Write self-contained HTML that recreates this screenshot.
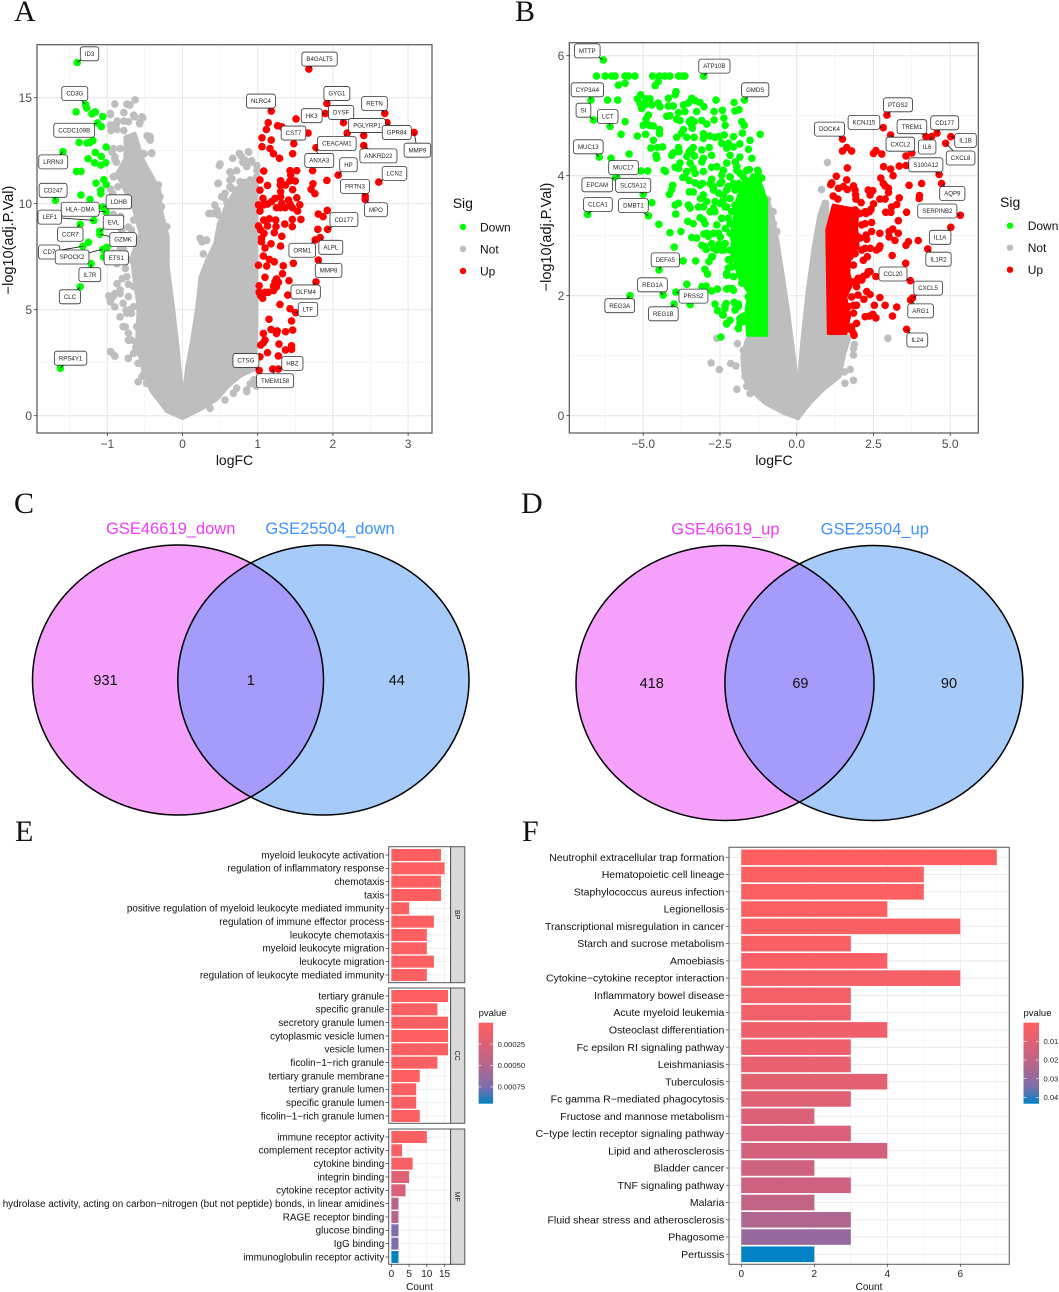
<!DOCTYPE html>
<html lang="en">
<head>
<meta charset="utf-8">
<title>Differential expression figure</title>
<style>
html,body{margin:0;padding:0;background:#fff;}
svg{display:block;font-family:"Liberation Sans",Arial,sans-serif;}
.panel-letter{font-family:"Liberation Serif",serif;font-size:30px;fill:#111;}
.venn-title{font-size:16.5px;text-anchor:middle;}
.venn-count{font-size:14.5px;text-anchor:middle;fill:#111;}
</style>
</head>
<body>
<svg id="figure" xmlns="http://www.w3.org/2000/svg" width="1059" height="1292" viewBox="0 0 1059 1292">
  <rect x="0" y="0" width="1059" height="1292" fill="#fff"/>
  <text class="panel-letter" x="14" y="21">A</text>
  <text class="panel-letter" x="515" y="21">B</text>
  <text class="panel-letter" x="14" y="513">C</text>
  <text class="panel-letter" x="521" y="513">D</text>
  <text class="panel-letter" x="15" y="841">E</text>
  <text class="panel-letter" x="522" y="841">F</text>

  <g>
    <text class="venn-title" x="170.7" y="534" fill="#f03cf5">GSE46619_down</text>
    <text class="venn-title" x="330" y="534" fill="#3f93f5">GSE25504_down</text>
    <defs>
      <clipPath id="clipC"><ellipse cx="178" cy="680" rx="145.5" ry="135"/></clipPath>
      <clipPath id="clipD"><ellipse cx="725" cy="683" rx="149" ry="137.5"/></clipPath>
    </defs>
    <ellipse cx="178" cy="680" rx="145.5" ry="135" fill="#f5a0fb"/>
    <ellipse cx="323.4" cy="680" rx="145.6" ry="135" fill="#a7cbf8"/>
    <ellipse cx="323.4" cy="680" rx="145.6" ry="135" fill="#a59bfa" clip-path="url(#clipC)"/>
    <ellipse cx="178" cy="680" rx="145.5" ry="135" fill="none" stroke="#000" stroke-width="1.5"/>
    <ellipse cx="323.4" cy="680" rx="145.6" ry="135" fill="none" stroke="#000" stroke-width="1.5"/>
    <text class="venn-count" x="105.5" y="685">931</text>
    <text class="venn-count" x="250.8" y="685">1</text>
    <text class="venn-count" x="396.8" y="685">44</text>
  </g>

  <g>
    <text class="venn-title" x="725.4" y="534.5" fill="#f03cf5">GSE46619_up</text>
    <text class="venn-title" x="874.8" y="534.5" fill="#3f93f5">GSE25504_up</text>
    <ellipse cx="725" cy="683" rx="149" ry="137.5" fill="#f5a0fb"/>
    <ellipse cx="873.9" cy="683" rx="149" ry="137.5" fill="#a7cbf8"/>
    <ellipse cx="873.9" cy="683" rx="149" ry="137.5" fill="#a59bfa" clip-path="url(#clipD)"/>
    <ellipse cx="725" cy="683" rx="149" ry="137.5" fill="none" stroke="#000" stroke-width="1.5"/>
    <ellipse cx="873.9" cy="683" rx="149" ry="137.5" fill="none" stroke="#000" stroke-width="1.5"/>
    <text class="venn-count" x="651.7" y="688">418</text>
    <text class="venn-count" x="800.4" y="688">69</text>
    <text class="venn-count" x="949" y="688">90</text>
  </g>
</svg>
<script>
/* ===== Panel A data (logFC, -log10 adj.P) ===== */
const xTicksA = [-1, 0, 1, 2, 3];
const yTicksA = [0, 5, 10, 15];
const notCoreLeftA = [[-.01,-.12],[-.21,.19],[-.43,1.21],[-.54,2.3],[-.61,3.57],[-.59,5.14],[-.65,6.56],[-.68,7.5],[-.565,8.6],[-.65,9.7],[-.875,11.43],[-.765,12.14],[-.765,13.16],[-.63,13.32],[-.52,12.06],[-.3,10.65],[-.28,9.7],[-.19,8.45],[-.19,7.03],[-.12,5.14],[-.055,3.1],[-.01,1.37]];
const notCoreRightA = [[.011,-.12],[.233,.27],[.455,.74],[.61,1.37],[.765,1.84],[.97,2.2],[.99,4.35],[.99,11.1],[.81,11.1],[.676,10.49],[.588,10],[.477,9.07],[.43,8.13],[.32,7.34],[.233,6.56],[.19,5.14],[.122,3.57],[.056,2.3],[.011,1.06]];
const notA = [[-.63,14.9],[-.9,14.7],[-.74,14.7],[-.7,14.65],[-.78,14.3],[-.64,14.1],[-.53,14.05],[-.96,14.2],[-.87,13.9],[-.78,13.9],[-.57,13.77],[-.95,13.7],[-.95,13.45],[-.87,13.5],[-.78,13.45],[-.47,13.2],[-.43,13],[-.92,12.6],[-.83,12.6],[-.9,12.1],[-.51,12.35],[-.41,12.4],[-.88,11.95],[-.9,11.3],[-.83,11.4],[-.86,10.8],[-.96,10.7],[-.93,10.5],[-.85,10.25],[-.76,10],[-.92,9.5],[-.82,9.4],[-.92,9.05],[-.81,8.75],[-.88,8.27],[-.94,7.65],[-.78,7.8],[-.87,7.17],[-.76,6.94],[-.8,6.47],[-.87,6.23],[-.98,5.65],[-.9,5.76],[-.96,5.37],[-.9,5.13],[-.83,4.66],[-.76,4.19],[-.72,3.56],[-.65,2.94],[-.72,2.7],[-.9,2.81],[-.95,3.01],[-.61,3.41],[-.59,1.6],[-.51,2],[-.75,4.98],[-.83,5.76],[-.72,8.9],[-.74,7.4],[-.72,6.2],[-.7,5],[-.62,3.2],[-.92,5.62],[-.83,5.93],[-.96,5.46],[-.79,5.3],[-.68,4.83],[-.79,4.2],[-.72,3.89],[-.68,3.57],[-.65,2.94],[-.72,2.71],[-.96,3.02],[-.9,2.82],[-.59,2.47],[-.54,1.84],[-.48,1.53],[-.65,6.09],[-.74,6.56],[-.68,7.34],[-.92,7.66],[-.83,7.82],[-.83,11.27],[-.92,11.27],[-.76,11.51],[-.65,11.59],[-.52,11.75],[-.41,12.37],[-.43,13.16],[-.52,12.37],[-.72,5.62],[-.65,5.14],[-.74,4.83],[-.61,4.2],[-.565,2.94],[-.32,10.88],[-.3,10.33],[-.28,9.86],[-.21,8.92],[-.68,8.76],[-.65,9.23],[-.9,12.22],[-.94,12.45],[-.96,14.26],[-.65,14.18],[-.54,14.1],[-.72,13.87],[-.96,13.71],[-.875,13.79],[-.565,13.87],[.49,11.8],[.47,10.95],[.63,11.5],[.78,12.25],[.88,12.43],[.66,11.18],[.92,11.96],[.8,11.96],[.99,11.8],[.83,11],[.94,11.1],[.71,10.63],[.55,10.3],[.59,10.08],[.35,9.53],[.41,9.53],[.26,8.2],[.32,8.27],[.63,10.8],[.77,10.47],[.88,10.63],[.97,10.8],[.99,11.57],[.46,9.69],[.63,9.37],[.855,1.13],[.95,1.7],[.72,1.3],[.98,1.4],[.9,1.5],[.5,11.87],[.667,12.14],[.876,12.45],[.756,12.37],[.83,12.06],[.92,12.03],[.99,11.27],[.72,11.56],[.64,11.46],[.854,11.75],[.477,10.96],[.63,11.12],[.765,11.04],[.9,11.12],[.654,10.72],[.81,10.65],[.43,9.94],[.366,9.55],[.477,9.47],[.32,8.29],[.255,8.29],[.277,7.63],[.233,8.37],[.52,10.33],[.565,10.49],[.676,1.06],[.565,.74],[.854,1.21],[.654,2],[.366,.35]];
const downA = [[-1.275,14.52],[-1.415,14.33],[-1.16,14.33],[-1.205,14.24],[-1.06,14.11],[-1.08,13.64],[-1.375,12.89],[-1.27,12.86],[-1.23,12.89],[-1.19,12.98],[-1.015,12.67],[-1.16,12.42],[-1.08,12.23],[-1.255,12.12],[-1.17,11.93],[-1.02,11.93],[-1.086,11.82],[-1.41,11.52],[-1.35,11.52],[-1.046,11.13],[-1.15,10.97],[-1.015,10.91],[-1.086,10.63],[-1.086,10.47],[-1.35,10.41],[-1.23,10.2],[-1.25,8.18],[-1.006,7.94]];
const upA = [[1.51,14],[1.14,13.82],[1.115,13.5],[1.265,13.68],[1.67,13.33],[1.057,13.11],[1.18,13],[1.48,12.83],[1.057,12.69],[1.164,12.6],[1.21,12.36],[1.465,12.36],[1.29,12.14],[1.73,11.56],[1.08,11.54],[1.43,11.56],[1.52,11.56],[1.44,11.34],[1.03,11.12],[1.92,11.1],[1.305,11.08],[1.43,11.08],[1.5,11.07],[1.13,10.86],[1.3,10.88],[1.37,10.88],[1.735,10.94],[1.03,10.64],[1.465,10.66],[1.71,10.68],[1.76,10.47],[1.305,10.57],[1.305,10.33],[1.52,10.28],[1.07,10.25],[1.23,10.25],[1.185,10.1],[1.41,10.17],[1.32,10.02],[1.56,9.95],[1.01,9.94],[1.075,9.94],[1.13,9.98],[1.43,9.98],[1.25,9.81],[1.305,9.81],[1.365,9.81],[1.46,9.81],[1.03,9.65],[1.53,9.65],[1.925,9.68],[1.806,9.51],[1.87,9.39],[1.08,9.23],[1.155,9.29],[1.24,9.23],[1.46,9.26],[1.575,9.26],[1.36,9.04],[1.01,8.95],[1.13,8.95],[1.244,8.92],[1.46,8.92],[1.8,8.79],[1.04,8.76],[1.084,8.6],[1.22,8.63],[1.32,8.46],[1.05,8.37],[1.05,8.2],[1.177,8.11],[1.305,8],[1.097,7.91],[1.075,7.53],[1.155,7.37],[1.22,7.26],[1.474,7.19],[1.01,7.1],[1.12,7.06],[1.34,7.07],[1.33,6.7],[1.097,6.53],[1.25,6.45],[1.416,6.37],[1.23,6.32],[1.275,6.29],[1.21,6.12],[1.02,6.13],[1.25,6.08],[1.097,5.82],[1.14,5.82],[1.21,5.9],[1.02,5.82],[1.4,5.69],[1.04,5.66],[1.066,5.54],[1.296,5.25],[1.43,5.05],[1.45,4.47],[1.15,4.55],[1.177,4.07],[1.465,4.04],[1.26,4],[1.25,3.88],[1.37,3.96],[1.075,3.88],[1.097,3.57],[1.075,3.44],[1.04,3.33],[1.283,3.38],[1.45,3.3],[1.45,3.13],[1.37,3.1],[1.13,2.97],[1.03,2.78],[1.275,2.82]];
const genesA = [['ID3',-1.4,16.66],['CD3G',-1.29,14.68],['CCDC109B',-1.13,13.81],['LRRN3',-1.59,12.46],['CD247',-1.69,10.16],['LDHB',-1.06,9.84],['HLA−DMA',-1.015,9.61],['LEF1',-1.18,9.21],['EVL',-1.1,8.7],['CCR7',-1.36,9.03],['GZMK',-1.1,8.56],['CD7',-1.325,7.99],['SPOCK2',-1.06,7.85],['ETS1',-1.05,7.49],['IL7R',-1.215,7.17],['CLC',-1.36,6.08],['RPS4Y1',-1.625,2.24],['B4GALT5',1.68,16.35],['GYG1',1.92,14.73],['NLRC4',1.18,14.37],['HK3',1.9,14.26],['DYSF',2.14,13.82],['RETN',2.69,14.26],['PGLYRP1',2.41,13.22],['GPR84',2.72,13.82],['MMP9',3.08,13.36],['CST7',1.32,13.63],['CEACAM1',2.19,13.33],['ANKRD22',2.41,12.74],['ANXA3',1.775,12.64],['HP',2.07,11.35],['LCN2',2.61,11.02],['PRTN3',2.43,10.36],['MPO',2.43,10.2],['CD177',1.93,8.79],['ALPL',1.83,8.4],['ORM1',1.765,8.29],['MMP8',1.806,7.34],['OLFM4',1.775,6.31],['LTF',1.505,4.86],['CTSG',1.02,2.13],['HBZ',1.275,2.2],['TMEM158',1.2,2.2]];

/* ===== Panel B data ===== */
const xTicksB = [-5, -2.5, 0, 2.5, 5];
const xTickLabelsB = ['−5.0', '−2.5', '0.0', '2.5', '5.0'];
const yTicksB = [0, 2, 4, 6];
const notCoreLeftB = [[.05,-.05],[-.43,.04],[-1.03,.2],[-1.52,.43],[-1.74,.65],[-1.79,.98],[-1.63,1.29],[-1.03,1.43],[-1.03,3.59],[-.92,3.59],[-.76,3.32],[-.6,2.87],[-.43,2.32],[-.27,1.76],[-.09,1.04],[.05,.43]];
const notCoreRightB = [[.05,-.05],[.43,.2],[.87,.43],[1.41,.65],[1.57,1.04],[1.74,1.32],[1,1.4],[1,3.54],[.87,3.57],[.71,3.32],[.54,2.82],[.33,2.04],[.16,1.2],[.02,.43]];
const notB = [[1,4.22],[.81,3.77],[.94,3.54],[2.97,1.29],[1.85,.59],[1.74,.77],[1.55,.73],[1.88,1.19],[1.85,1.12],[1.85,1.01],[1.57,.54],[-2.6,1.29],[-1.93,1.2],[-2.79,.88],[-2.52,.77],[-2.15,.87],[-1.98,.83],[-1.95,.44],[-1.52,.37],[-1.68,.65],[-1.63,.49],[-1.74,1.09],[-1.63,1.01],[-.95,3.6],[-.77,3.4],[-.65,3.07],[-.76,3.2]];
const downCoreB = [[-.98,1.34],[-1.6,1.34],[-1.65,1.76],[-1.55,2.04],[-1.9,2.32],[-2.1,2.76],[-2.1,3.1],[-1.95,3.59],[-1.7,3.93],[-1.25,3.98],[-.98,3.59]];
const upCoreB = [[1.03,1.37],[1.6,1.37],[1.72,1.65],[1.6,1.98],[1.8,2.2],[1.7,2.37],[1.72,2.6],[2,2.82],[1.95,3.15],[2,3.43],[1.19,3.51],[.98,3.1]];
const downB = [[-6.52,5.66],[-6.24,5.66],[-6.03,5.66],[-5.92,5.66],[-5.59,5.66],[-5.48,5.66],[-5.27,5.66],[-4.69,5.66],[-4.47,5.66],[-4.29,5.66],[-4.13,5.66],[-3.85,5.66],[-3.71,5.66],[-3.64,5.66],[-4.51,5.57],[-4.61,5.5],[-5.59,5.54],[-5.81,5.51],[-3.93,5.4],[-3.96,5.35],[-5.08,5.35],[-5.19,5.28],[-4.91,5.28],[-4.78,5.28],[-4.18,5.29],[-3.42,5.29],[-3.31,5.25],[-2.63,5.26],[-2.04,5.22],[-6.16,5.26],[-5.83,5.26],[-5.1,5.2],[-4.94,5.18],[-4.72,5.18],[-4.51,5.21],[-4.18,5.16],[-4.02,5.16],[-3.69,5.18],[-3.53,5.21],[-3.15,5.22],[-3.02,5.15],[-5.05,5.12],[-4.45,5.15],[-3.85,5.05],[-3.64,5.07],[-3.26,5.07],[-2.69,5.07],[-2.42,5.09],[-2.01,5.08],[-1.88,5.1],[-4.83,5.01],[-4.91,4.94],[-4.23,4.99],[-4.13,5],[-3.91,4.94],[-3.8,4.92],[-3.09,4.92],[-2.69,4.93],[-2.37,4.96],[-5.59,4.9],[-5,4.84],[-4.8,4.84],[-4.67,4.83],[-3.42,4.93],[-3.5,4.9],[-3.34,4.9],[-3.42,4.84],[-3.4,4.79],[-2.93,4.86],[-2.33,4.84],[-1.79,4.9],[-1.71,4.84],[-4.47,4.77],[-5.72,4.69],[-5.19,4.66],[-4.92,4.69],[-4.47,4.7],[-3.69,4.77],[-3.75,4.71],[-3.04,4.7],[-2.82,4.66],[-2.66,4.64],[-2.53,4.65],[-2.36,4.68],[-2.06,4.65],[-1.77,4.71],[-1.19,4.69],[-1.52,4.59],[-3.91,4.64],[-3.58,4.64],[-3.34,4.64],[-3.04,4.62],[-4.67,4.59],[-2.44,4.54],[-2.22,4.54],[-1.85,4.53],[-4.75,4.46],[-4.54,4.47],[-4.37,4.48],[-3.85,4.47],[-3.37,4.47],[-2.85,4.47],[-3.09,4.43],[-3.44,4.43],[-2.28,4.46],[-2.06,4.48],[-1.57,4.44],[-5.46,4.36],[-4.58,4.34],[-4.56,4.29],[-4.02,4.38],[-4.07,4.34],[-3.83,4.4],[-3.5,4.4],[-3.58,4.32],[-3.33,4.33],[-6.05,4.29],[-3.04,4.29],[-2.77,4.34],[-2.17,4.34],[-1.85,4.31],[-1.46,4.29],[-3.8,4.21],[-3.96,4.14],[-3.47,4.21],[-3.09,4.23],[-2.77,4.14],[-2.6,4.15],[-2.28,4.21],[-2,4.23],[-4.32,4.09],[-4.27,4.07],[-5.07,4.08],[-4.85,4.08],[-3.85,4.12],[-3.37,4.12],[-1.95,4.09],[-1.54,4.1],[-1.27,4.09],[-3.04,4.07],[-3.58,4.07],[-3.31,4.04],[-3.64,3.98],[-3.71,3.97],[-2.44,4.01],[-2.17,3.98],[-1.74,3.98],[-1.32,3.96],[-1.14,3.96],[-3.5,3.92],[-3.31,3.88],[-3.15,3.84],[-2.77,3.94],[-2.44,3.9],[-2.06,3.87],[-1.52,3.87],[-2.77,3.84],[-4.04,3.84],[-4.07,3.77],[-3.07,3.87],[-3.5,3.73],[-3.37,3.73],[-2.71,3.76],[-2.55,3.71],[-4.15,3.69],[-2.28,3.76],[-1.85,3.76],[-3.04,3.68],[-3.13,3.62],[-4.72,3.55],[-3.85,3.54],[-3.96,3.51],[-2.93,3.57],[-2.66,3.57],[-2.39,3.59],[-3.53,3.51],[-3.2,3.48],[-3.04,3.48],[-3.47,3.46],[-2.71,3.46],[-2.28,3.48],[-3.94,3.36],[-3.15,3.3],[-3.04,3.26],[-2.44,3.29],[-3.55,3.24],[-3.37,3.2],[-2.98,3.2],[-4.49,3.19],[-2.6,3.18],[-2.17,3.2],[-3.77,3.07],[-4.13,3.05],[-3.02,3.03],[-2.71,3.04],[-3.42,2.97],[-3.26,2.96],[-2.88,2.99],[-2.49,2.98],[-2.06,2.96],[-3.09,2.84],[-2.95,2.77],[-2.53,2.86],[-2.71,2.79],[-3.99,2.81],[-2.37,2.76],[-2.74,2.65],[-3.7,2.58],[-3.29,2.58],[-2.86,2.57],[-2.17,2.59],[-2.99,2.44],[-2.9,2.36],[-2.23,2.46],[-2.28,2.34],[-2.06,2.32],[-3.58,2.19],[-2.95,2.16],[-3.09,2.15],[-2.77,2.08],[-2.58,2.11],[-2.28,2.11],[-2.1,2.12],[-3.47,1.85],[-2.66,1.86],[-2.3,1.87],[-2.04,1.89],[-1.9,1.86],[-2.58,1.75],[-2.34,1.79],[-2.41,1.68],[-2.01,1.76],[-2.17,1.59],[-2.28,1.53],[-1.85,1.54],[-1.9,1.45],[-2.47,1.31],[-1.74,1.66],[-2.28,2.37],[-2.12,2.48],[-2.23,2.6],[-2.06,2.65],[-2.17,2.76],[-2.33,2.87],[-2.01,2.93],[-2.17,3.04],[-2.33,3.12],[-2.01,3.21],[-2.23,3.29],[-2.44,3.29],[-2.12,3.4],[-2.33,3.48],[-2.01,3.51],[-2.17,3.62],[-2.39,3.68],[-2.01,3.76],[-2.23,3.82],[-1.9,3.87],[-2.5,3.87],[-2.17,3.98],[-1.85,4.04],[-1.63,4.09],[-1.41,3.98],[-1.25,4.07],[-1.95,4.15],[-1.79,2.21],[-2.06,2.32],[-2.23,2.12],[-2.06,2.09],[-1.58,1.98],[-2.33,1.84],[-2.01,1.87],[-1.9,1.82],[-2.39,1.68],[-1.85,1.62],[-1.74,1.57],[-1.9,1.46],[-2.28,1.54],[-2.77,2.65],[-2.61,2.76],[-2.44,2.76],[-2.77,2.87],[-2.99,2.82],[-2.5,3.54],[-2.66,3.4],[-2.82,3.4],[-2.71,3.04],[-2.93,3.04],[-2.55,3.04],[-2.39,4.09],[-2.82,3.87],[-2.71,3.82]];
const upB = [[1.49,4.41],[1.63,4.47],[1.79,4.41],[2.5,4.37],[2.58,4.42],[2.77,4.36],[3.56,4.33],[3.75,4.38],[2.83,4.15],[3.06,4.11],[3.34,4.16],[3.56,4.17],[1.65,4.13],[1.29,3.99],[1.63,3.93],[1.14,3.88],[1.11,3.85],[2.74,3.96],[3.14,4],[2.82,3.87],[2.88,3.83],[3.66,3.84],[4.07,3.87],[1.36,3.79],[1.52,3.82],[1.65,3.77],[1.85,3.83],[1.9,3.76],[2.33,3.76],[2.48,3.75],[2.99,3.79],[2.99,3.72],[2.39,3.68],[1.19,3.66],[1.92,3.68],[1.93,3.61],[2.71,3.61],[2.88,3.61],[3.34,3.63],[4,3.67],[3.99,3.62],[1.34,3.61],[2.1,3.55],[3.26,3.52],[3.09,3.48],[2.5,3.53],[2.42,3.44],[2.9,3.39],[3.07,3.39],[3.58,3.39],[2.26,3.37],[2.37,3.4],[3.31,3.25],[2.44,3.22],[2.23,3.2],[2.44,3.07],[2.71,3.04],[3.13,3.11],[3.01,3.07],[3.31,3.04],[3.01,2.98],[3.2,2.92],[2.26,3.01],[2.28,2.94],[3.64,2.9],[3.56,2.84],[3.96,2.92],[2.71,2.83],[2.6,2.76],[2.69,2.79],[2.39,2.79],[2.23,2.79],[3.11,2.67],[2.3,2.65],[2.17,2.59],[3.55,2.54],[2.39,2.4],[2.28,2.35],[2.58,2.32],[2.12,2.26],[1.95,2.23],[2.28,2.07],[2.39,2.02],[2,2.01],[2.19,1.94],[2.71,1.97],[2.53,1.84],[2.88,1.84],[3.26,1.81],[1.95,1.84],[1.85,1.84],[2.48,1.69],[2.23,1.65],[2.37,1.66],[2.58,1.63],[3.12,1.66],[1.95,1.54],[1.68,1.45],[1.79,1.43],[1.87,1.34],[1.9,3.43],[2.06,3.37],[2.23,3.4],[1.85,3.26],[2.12,3.18],[1.95,3],[2.06,2.96],[1.9,2.7],[2.12,2.76],[1.74,2.65],[1.85,2.51],[2,2.29],[1.85,2.23],[1.68,2.15],[1.79,1.98],[1.68,1.82],[1.85,1.71],[1.79,1.48],[1.85,1.37],[1.95,2.15],[2.17,2.32],[2.33,2.4]];
const genesB = [['MTTP',-6.3,5.93],['CYP3A4',-6.7,5.26],['SI',-6.62,4.93],['LCT',-6.08,4.82],['MUC13',-6.43,4.31],['MUC17',-5.86,3.98],['EPCAM',-5.9,3.97],['SLC5A12',-5,3.69],['CLCA1',-6.81,3.355],['DMBT1',-4.83,3.33],['DEFA5',-4.485,2.43],['REG1A',-4.35,2.01],['REG3A',-5.43,2],['REG1B',-3.995,1.86],['PRSS2',-3.94,2.06],['ATP10B',-3.03,5.66],['GMDS',-1.7,5.26],['PTGS2',2.94,5.01],['KCNJ15',2.82,4.8],['DOCK4',1.49,4.61],['TREM1',4.21,4.65],['CD177',4.57,4.71],['IL6',4.39,4.65],['IL1B',5.02,4.65],['CXCL8',4.85,4.54],['CXCL2',3.06,4.68],['S100A12',4.64,4.02],['AQP9',4.72,3.87],['SERPINB2',5.33,3.34],['IL1A',5.02,3.14],['IL1R2',4.27,2.78],['CCL20',3.7,2.25],['CXCL5',3.77,1.96],['ARG1',3.71,1.93],['IL24',3.58,1.44]];

/* ===== Panel E data ===== */
const goBpTerms = ['myeloid leukocyte activation','regulation of inflammatory response','chemotaxis','taxis','positive regulation of myeloid leukocyte mediated immunity','regulation of immune effector process','leukocyte chemotaxis','myeloid leukocyte migration','leukocyte migration','regulation of leukocyte mediated immunity'];
const goBpCounts = [14,15,14,14,5,12,10,10,12,10];
const goBpP = [.00001,.00001,.00001,.00001,.00001,.00001,.00001,.00002,.00002,.00002];
const goCcTerms = ['tertiary granule','specific granule','secretory granule lumen','cytoplasmic vesicle lumen','vesicle lumen','ficolin−1−rich granule','tertiary granule membrane','tertiary granule lumen','specific granule lumen','ficolin−1−rich granule lumen'];
const goCcCounts = [16,13,16,16,16,13,8,7,7,8];
const goCcP = [.00001,.00001,.00001,.00001,.00001,.00001,.00001,.00001,.00002,.00002];
const goMfTerms = ['immune receptor activity','complement receptor activity','cytokine binding','integrin binding','cytokine receptor activity','hydrolase activity, acting on carbon−nitrogen (but not peptide) bonds, in linear amidines','RAGE receptor binding','glucose binding','IgG binding','immunoglobulin receptor activity'];
const goMfCounts = [10,3,6,5,4,2,2,2,2,2];
const goMfP = [.00002,.00004,.00006,.00022,.00028,.00047,.00047,.00072,.00072,.00094];
const goStrips = ['BP','CC','MF'];
const goXTicks = [0,5,10,15];
const goLegendTicks = [.00025,.0005,.00075];
const goLegendLabels = ['0.00025','0.00050','0.00075'];

/* ===== Panel F data ===== */
const keggTerms = ['Neutrophil extracellular trap formation','Hematopoietic cell lineage','Staphylococcus aureus infection','Legionellosis','Transcriptional misregulation in cancer','Starch and sucrose metabolism','Amoebiasis','Cytokine−cytokine receptor interaction','Inflammatory bowel disease','Acute myeloid leukemia','Osteoclast differentiation','Fc epsilon RI signaling pathway','Leishmaniasis','Tuberculosis','Fc gamma R−mediated phagocytosis','Fructose and mannose metabolism','C−type lectin receptor signaling pathway','Lipid and atherosclerosis','Bladder cancer','TNF signaling pathway','Malaria','Fluid shear stress and atherosclerosis','Phagosome','Pertussis'];
const keggCounts = [7,5,5,4,6,3,4,6,3,3,4,3,3,4,3,2,3,4,2,3,2,3,3,2];
const keggP = [.0005,.001,.001,.0015,.002,.0025,.003,.0035,.004,.0045,.005,.006,.0075,.009,.011,.012,.0125,.014,.0155,.016,.019,.024,.029,.0434];
const keggXTicks = [0,2,4,6];
const keggLegendTicks = [.01,.02,.03,.04];
const keggLegendLabels = ['0.01','0.02','0.03','0.04'];

/* ===== layout (label placement, not data) ===== */
const labelPlacementA = {ID3:[12.3,-8.7],CD3G:[-10.7,-11],CCDC109B:[-23.3,7.3],LRRN3:[-9.7,10.3],CD247:[-2.3,-10],LDHB:[16,-5.3],'HLA−DMA':[-26,-2.7],LEF1:[-44,-3.3],EVL:[13.7,-9],CCR7:[-10,10],GZMK:[23.3,5.3],CD7:[-33.7,5.7],SPOCK2:[-30.7,7.7],ETS1:[12.7,1],IL7R:[-1.3,11],CLC:[-10.3,10],RPS4Y1:[10.3,-10],B4GALT5:[10.7,-10],GYG1:[10,-10],NLRC4:[-10.3,-10],HK3:[-13.7,2.3],DYSF:[-2.3,-10.3],RETN:[-10.3,-10],PGLYRP1:[3.3,-10],GPR84:[9.7,9.7],MMP9:[3.3,17.7],CST7:[11.7,6.3],CEACAM1:[-10.3,10.3],ANKRD22:[14.7,10.3],ANXA3:[3.3,12.7],HP:[10.3,-10.3],LCN2:[15.7,-8.7],PRTN3:[-10.3,-9.7],MPO:[10.7,10.3],CD177:[16.3,-9.7],ALPL:[10.7,9.7],ORM1:[-13,10.3],MMP8:[10.3,10.3],OLFM4:[-10.3,10],LTF:[12.3,-3.3],CTSG:[-13.3,-10],HBZ:[14,-5.7],TMEM158:[2.3,11.7]};
const labelPlacementB = {MTTP:[-16,-9],CYP3A4:[-3.7,-10.3],SI:[-10,-9.7],LCT:[-2.3,-10],MUC13:[-11,-10.3],MUC17:[6.7,-9.3],EPCAM:[-18.3,7.3],SLC5A12:[-10,-9],CLCA1:[10.3,-10],DMBT1:[-15,-10.3],DEFA5:[6.3,-10],REG1A:[-10.7,-10.3],REG3A:[-10.3,10],REG1B:[-10.7,9.7],PRSS2:[17.7,4],ATP10B:[10.7,-10],GMDS:[10.7,-10.3],PTGS2:[11,-10.3],KCNJ15:[-19.3,-5.3],DOCK4:[-13,-10],TREM1:[-14,-10],CD177:[7.7,-10.3],IL6:[-4.3,10.3],IL1B:[14.7,3.7],CXCL8:[15,14.7],CXCL2:[9.7,9.3],S100A12:[-13.3,-9.7],AQP9:[10.7,10],SERPINB2:[-23,-4.3],IL1A:[-10.7,10],IL1R2:[10.7,10.3],CCL20:[-17.3,-6.7],CXCL5:[15.7,-10],ARG1:[10,11],IL24:[10.7,10.7]};

/* ===== helpers ===== */
const NS = 'http://www.w3.org/2000/svg';
const root = document.getElementById('figure');
function make(tag, parent, attrs, text) {
  const node = document.createElementNS(NS, tag);
  for (const k in attrs) node.setAttribute(k, attrs[k]);
  if (text !== undefined) node.textContent = text;
  parent.appendChild(node);
  return node;
}
function linear(d0, r0, d1, r1) {
  return v => r0 + (v - d0) * (r1 - r0) / (d1 - d0);
}
function slug(s) {
  return String(s).toLowerCase().replace(/[^a-z0-9]+/g, '-').replace(/^-|-$/g, '');
}
const RAMP = [[0,[255,96,96]],[.3,[216,97,122]],[.55,[176,102,143]],[.8,[122,110,174]],[1,[0,130,196]]];
function rampColor(t) {
  t = Math.max(0, Math.min(1, t));
  for (let i = 1; i < RAMP.length; i++) {
    if (t <= RAMP[i][0]) {
      const a = RAMP[i-1], b = RAMP[i], f = (t - a[0]) / (b[0] - a[0]);
      const c = a[1].map((v, j) => Math.round(v + (b[1][j] - v) * f));
      return 'rgb(' + c.join(',') + ')';
    }
  }
  return 'rgb(0,130,196)';
}
const defs = make('defs', root, {});
const grad = make('linearGradient', defs, {id:'pvalueRamp', x1:0, y1:0, x2:0, y2:1});
RAMP.forEach(s => make('stop', grad, {offset:s[0], 'stop-color':rampColor(s[0])}));

/* ===== volcano plot ===== */
function volcano(c) {
  const g = make('g', root, {});
  
  
  const x = linear(c.xD[0], c.xR[0], c.xD[1], c.xR[1]);
  const y = linear(c.yD[0], c.yR[0], c.yD[1], c.yR[1]);
  const grid = make('g', g, {});
  
  
  c.xMinor.forEach(v => make('line', grid, {x1:x(v), x2:x(v), y1:c.box[1], y2:c.box[3], stroke:'#f1f1f1', 'stroke-width':.7}));
  c.yMinor.forEach(v => make('line', grid, {y1:y(v), y2:y(v), x1:c.box[0], x2:c.box[2], stroke:'#f1f1f1', 'stroke-width':.7}));
  c.xTicks.forEach(v => make('line', grid, {x1:x(v), x2:x(v), y1:c.box[1], y2:c.box[3], stroke:'#e8e8e8', 'stroke-width':1.1}));
  c.yTicks.forEach(v => make('line', grid, {y1:y(v), y2:y(v), x1:c.box[0], x2:c.box[2], stroke:'#e8e8e8', 'stroke-width':1.1}));

  const R = 3.8;
  function poly(pts, fill, name) {
    const p = make('polygon', g, {points:pts.map(d => x(d[0]) + ',' + y(d[1])).join(' '), fill:fill, stroke:fill, 'stroke-width':3, 'stroke-linejoin':'round'});
    
    
  }
  function dots(pts, fill, name) {
    const s = make('g', g, {fill:fill});
    
    
    pts.forEach(d => {
      const pt = make('circle', s, {cx:x(d[0]), cy:y(d[1]), r:R});
      
      
    });
  }
  const GREY = '#bebebe', GREEN = '#00ff00', RED = '#ff0000';
  c.notCores.forEach(p => poly(p, GREY, 'not-significant-density'));
  dots(c.not, GREY, 'not-significant-points');
  (c.downCores || []).forEach(p => poly(p, GREEN, 'down-density'));
  dots(c.down, GREEN, 'down-points');
  (c.upCores || []).forEach(p => poly(p, RED, 'up-density'));
  dots(c.up, RED, 'up-points');
  dots(c.genes.filter(d => d[1] < 0).map(d => [d[1], d[2]]), GREEN, 'labelled-down-points');
  dots(c.genes.filter(d => d[1] > 0).map(d => [d[1], d[2]]), RED, 'labelled-up-points');

  const border = make('rect', g, {x:c.box[0], y:c.box[1], width:c.box[2]-c.box[0], height:c.box[3]-c.box[1], fill:'none', stroke:'#555', 'stroke-width':1.2});
  
  

  c.xTicks.forEach((v, i) => {
    make('line', g, {x1:x(v), x2:x(v), y1:c.box[3], y2:c.box[3]+3, stroke:'#333', 'stroke-width':.8});
    const t = make('text', g, {x:x(v), y:448, 'text-anchor':'middle', 'font-size':12, fill:'#4d4d4d'}, c.xLabels[i]);
    
    
  });
  c.yTicks.forEach(v => {
    make('line', g, {y1:y(v), y2:y(v), x1:c.box[0]-3, x2:c.box[0], stroke:'#333', 'stroke-width':.8});
    const t = make('text', g, {x:c.box[0]-5, y:y(v)+4.2, 'text-anchor':'end', 'font-size':12, fill:'#4d4d4d'}, String(v));
    
    
  });
  const xt = make('text', g, {x:c.xTitle[0], y:c.xTitle[1], 'text-anchor':'middle', 'font-size':14, fill:'#111'}, 'logFC');
  
  
  const yt = make('text', g, {transform:'translate(' + c.yTitle[0] + ',' + c.yTitle[1] + ') rotate(-90)', 'text-anchor':'middle', 'font-size':14.5, fill:'#111'}, '−log10(adj.P.Val)');
  
  

  /* gene labels */
  c.genes.forEach(d => {
    const off = c.place[d[0]];
    const px = x(d[1]), py = y(d[2]);
    const lx = px + off[0], ly = py + off[1];
    const lab = make('g', g, {});
    
    
    make('line', lab, {x1:px, y1:py, x2:lx, y2:ly, stroke:'#111', 'stroke-width':.8});
    const box = make('rect', lab, {fill:'#fff', stroke:'#333', 'stroke-width':.8, rx:2.5, ry:2.5});
    const txt = make('text', lab, {x:lx, y:ly+2.1, 'text-anchor':'middle', 'font-size':6.1, fill:'#222'}, d[0]);
    const w = txt.getComputedTextLength() + 9;
    box.setAttribute('x', lx - w/2);
    box.setAttribute('y', ly - 7);
    box.setAttribute('width', w);
    box.setAttribute('height', 14);
  });

  /* legend */
  const lg = make('g', g, {});
  
  
  const lt = make('text', lg, {x:c.legend.title[0], y:c.legend.title[1], 'font-size':14, fill:'#111'}, 'Sig');
  
  
  [['Down',GREEN],['Not',GREY],['Up',RED]].forEach((e, i) => {
    const cy = c.legend.y + i * 22;
    const k = make('circle', lg, {cx:c.legend.x, cy:cy, r:3.2, fill:e[1]});
    
    
    const t = make('text', lg, {x:c.legend.textX, y:cy+4.3, 'font-size':12, fill:'#111'}, e[0]);
    
    
  });
}

volcano({name:'volcano-gse46619', box:[37,44.7,432,433], xD:[0,3], xR:[182.5,408.1], yD:[0,15], yR:[415.7,97.7],
  xTicks:xTicksA, xLabels:['−1','0','1','2','3'], yTicks:yTicksA,
  xMinor:[-1.5,-.5,.5,1.5,2.5], yMinor:[2.5,7.5,12.5],
  notCores:[notCoreLeftA, notCoreRightA], not:notA, down:downA, up:upA, genes:genesA, place:labelPlacementA,
  xTitle:[234.5,465], yTitle:[13,240],
  legend:{title:[452.7,208], x:463, y:227, textX:480}});
volcano({name:'volcano-gse25504', box:[569.3,42.7,978.3,433], xD:[0,5], xR:[796.7,950.2], yD:[0,6], yR:[415.7,55.7],
  xTicks:xTicksB, xLabels:xTickLabelsB, yTicks:yTicksB,
  xMinor:[-6.25,-3.75,-1.25,1.25,3.75], yMinor:[1,3,5],
  notCores:[notCoreLeftB, notCoreRightB], not:notB, downCores:[downCoreB], down:downB, upCores:[upCoreB], up:upB, genes:genesB, place:labelPlacementB,
  xTitle:[774,465], yTitle:[551,237],
  legend:{title:[1000,207], x:1010, y:225.7, textX:1027.7}});

/* ===== legend colourbar ===== */
function colorbar(parent, c) {
  const g = make('g', parent, {});
  
  
  const t = make('text', g, {x:c.x, y:1016, 'font-size':9.5, fill:'#111'}, 'pvalue');
  
  
  const bar = make('rect', g, {x:c.x, y:1022.7, width:c.w, height:81, fill:'url(#pvalueRamp)'});
  
  
  const ty = linear(0, 1022.7, c.max, 1103.7);
  c.ticks.forEach((v, i) => {
    make('line', g, {x1:c.x, x2:c.x+c.w*.2, y1:ty(v), y2:ty(v), stroke:'#fff', 'stroke-width':.6});
    make('line', g, {x1:c.x+c.w*.8, x2:c.x+c.w, y1:ty(v), y2:ty(v), stroke:'#fff', 'stroke-width':.6});
    const l = make('text', g, {x:c.x+c.w+4.5, y:ty(v)+2.7, 'font-size':7.6, fill:'#222'}, c.labels[i]);
    
    
  });
}

/* ===== panel E ===== */
(function () {
  const g = make('g', root, {});
  
  
  const x = linear(0, 391.4, 15, 444.5);
  const maxP = .000946;
  const facets = [
    {terms:goBpTerms, counts:goBpCounts, p:goBpP, top:846.7, bot:982.7, first:855},
    {terms:goCcTerms, counts:goCcCounts, p:goCcP, top:988, bot:1123.3, first:996},
    {terms:goMfTerms, counts:goMfCounts, p:goMfP, top:1129, bot:1264.3, first:1137}
  ];
  facets.forEach((f, fi) => {
    const fg = make('g', g, {});
    
    
    const y = linear(0, f.first, 1, f.first + 13.33);
    goXTicks.forEach(v => make('line', fg, {x1:x(v), x2:x(v), y1:f.top, y2:f.bot, stroke:'#ececec', 'stroke-width':.8}));
    f.terms.forEach((term, i) => {
      make('line', fg, {x1:388.7, x2:450.6, y1:y(i), y2:y(i), stroke:'#ececec', 'stroke-width':.8});
      const bar = make('rect', fg, {x:x(0), y:y(i)-6, width:x(f.counts[i])-x(0), height:12, fill:rampColor(f.p[i]/maxP)});
      
      
      make('line', fg, {x1:385.5, x2:388.7, y1:y(i), y2:y(i), stroke:'#333', 'stroke-width':.7});
      const t = make('text', fg, {x:384.3, y:y(i)+3.4, 'text-anchor':'end', 'font-size':9.9, fill:'#111'}, term);
      
      
    });
    const b = make('rect', fg, {x:388.7, y:f.top, width:61.9, height:f.bot-f.top, fill:'none', stroke:'#555', 'stroke-width':1});
    
    
    const s = make('rect', fg, {x:450.6, y:f.top, width:14.2, height:f.bot-f.top, fill:'#d9d9d9', stroke:'#555', 'stroke-width':1});
    
    
    const st = make('text', fg, {transform:'translate(455.2,' + ((f.top+f.bot)/2) + ') rotate(90)', 'text-anchor':'middle', 'font-size':7, fill:'#222'}, goStrips[fi]);
    
    
  });
  goXTicks.forEach(v => {
    make('line', g, {x1:x(v), x2:x(v), y1:1264.3, y2:1267, stroke:'#333', 'stroke-width':.7});
    const t = make('text', g, {x:x(v), y:1277, 'text-anchor':'middle', 'font-size':10, fill:'#222'}, String(v));
    
    
  });
  const xt = make('text', g, {x:419.5, y:1290, 'text-anchor':'middle', 'font-size':10, fill:'#111'}, 'Count');
  
  
  colorbar(g, {x:478.6, w:14.5, max:maxP, ticks:goLegendTicks, labels:goLegendLabels});
})();

/* ===== panel F ===== */
(function () {
  const g = make('g', root, {});
  
  
  const x = linear(0, 741.3, 6, 960.3);
  const y = linear(0, 857.3, 23, 1254.3);
  const maxP = .0434;
  [1,3,5,7].forEach(v => make('line', g, {x1:x(v), x2:x(v), y1:847.3, y2:1264.3, stroke:'#f2f2f2', 'stroke-width':.6}));
  keggXTicks.forEach(v => make('line', g, {x1:x(v), x2:x(v), y1:847.3, y2:1264.3, stroke:'#e8e8e8', 'stroke-width':.9}));
  keggTerms.forEach((term, i) => {
    make('line', g, {x1:729, x2:1009.3, y1:y(i), y2:y(i), stroke:'#e8e8e8', 'stroke-width':.9});
    const bar = make('rect', g, {x:x(0), y:y(i)-7.8, width:x(keggCounts[i])-x(0), height:15.6, fill:rampColor(keggP[i]/maxP)});
    
    
    make('line', g, {x1:725.8, x2:729, y1:y(i), y2:y(i), stroke:'#333', 'stroke-width':.7});
    const t = make('text', g, {x:724.3, y:y(i)+3.6, 'text-anchor':'end', 'font-size':10.5, fill:'#111'}, term);
    
    
  });
  const b = make('rect', g, {x:729, y:847.3, width:280.3, height:417, fill:'none', stroke:'#666', 'stroke-width':1.1});
  
  
  keggXTicks.forEach(v => {
    make('line', g, {x1:x(v), x2:x(v), y1:1264.3, y2:1267, stroke:'#333', 'stroke-width':.7});
    const t = make('text', g, {x:x(v), y:1277, 'text-anchor':'middle', 'font-size':10, fill:'#222'}, String(v));
    
    
  });
  const xt = make('text', g, {x:869, y:1290, 'text-anchor':'middle', 'font-size':10, fill:'#111'}, 'Count');
  
  
  colorbar(g, {x:1023.5, w:15.5, max:maxP, ticks:keggLegendTicks, labels:keggLegendLabels});
})();
</script>
</body>
</html>
